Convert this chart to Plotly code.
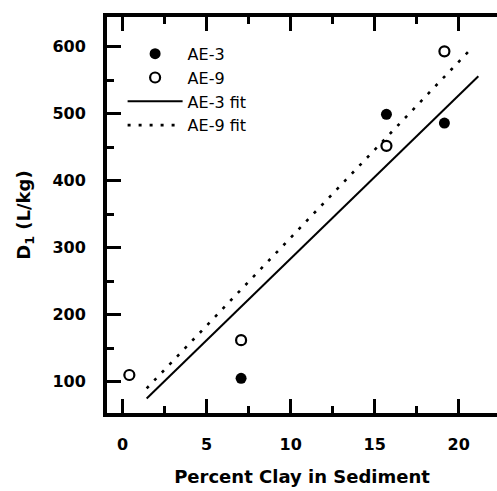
import plotly.graph_objects as go

# Data
ae3_x = [0.4, 7.05, 15.7, 19.15]
ae3_y = [110, 105, 499, 486]
ae9_x = [0.4, 7.05, 15.7, 19.15]
ae9_y = [110, 162, 452, 593]
fit3_x = [1.43, 21.17]
fit3_y = [75, 556]
fit9_x = [1.43, 20.67]
fit9_y = [90, 595]

x_ticks = [0, 5, 10, 15, 20]
y_ticks = [100, 200, 300, 400, 500, 600]
y_range = [53.3, 644.3]

FONT = "DejaVu Sans"

fig = go.Figure()
fig.add_trace(go.Scatter(x=ae3_x, y=ae3_y, mode="markers", name="AE-3",
                         marker=dict(symbol="circle", size=11, color="black",
                                     line=dict(width=0))))
fig.add_trace(go.Scatter(x=ae9_x, y=ae9_y, mode="markers", name="AE-9",
                         marker=dict(symbol="circle", size=10, color="white",
                                     line=dict(width=2.2, color="black"))))
fig.add_trace(go.Scatter(x=fit3_x, y=fit3_y, mode="lines", name="AE-3 fit",
                         line=dict(color="black", width=2)))
fig.add_trace(go.Scatter(x=fit9_x, y=fit9_y, mode="lines", name="AE-9 fit",
                         line=dict(color="black", width=2.6, dash="3px,8px")))

tickfont = dict(family=FONT, size=16, color="black", weight="bold")
titlefont = dict(family=FONT, size=18, color="black", weight="bold")

fig.update_layout(
    xaxis=dict(
        showgrid=False, zeroline=False, showline=True, linecolor="black",
        linewidth=4, mirror="allticks", ticks="inside", tickcolor="black",
        tickwidth=3, ticklen=14, tickfont=tickfont,
        range=[-0.93, 22.28], tickvals=x_ticks,
        minor=dict(ticks="inside", ticklen=7, tickwidth=3, tickcolor="black",
                   dtick=2.5, tick0=0, showgrid=False),
        ticklabelstandoff=14,
        title=dict(text="Percent Clay in Sediment", standoff=18, font=titlefont),
    ),
    yaxis=dict(
        showgrid=False, zeroline=False, showline=True, linecolor="black",
        linewidth=4, mirror=False, ticks="inside", tickcolor="black",
        tickwidth=3, ticklen=14, tickfont=tickfont,
        range=y_range, tickvals=y_ticks,
        minor=dict(ticks="inside", ticklen=7, tickwidth=3, tickcolor="black",
                   dtick=50, tick0=0, showgrid=False),
        ticklabelstandoff=14,
        title=dict(text="D<sub>1</sub> (L/kg)", standoff=18, font=titlefont),
    ),
    yaxis2=dict(
        overlaying="y", side="right", matches="y", range=y_range,
        showgrid=False, zeroline=False, showline=False,
        ticks="inside", tickcolor="black", tickwidth=3, ticklen=14,
        tickvals=y_ticks, showticklabels=False,
        minor=dict(ticks="inside", ticklen=7, tickwidth=3, tickcolor="black",
                   dtick=50, tick0=0, showgrid=False),
    ),
    width=497, height=491,
    margin=dict(l=107, r=0, t=17, b=78),
    paper_bgcolor="white", plot_bgcolor="white",
    showlegend=True,
    legend=dict(x=0.04, y=0.95, xanchor="left", yanchor="top",
                bgcolor="rgba(0,0,0,0)", borderwidth=0, itemwidth=55,
                font=dict(family=FONT, size=16, color="black"),
                tracegroupgap=4),
)

fig.write_html("out.html")
